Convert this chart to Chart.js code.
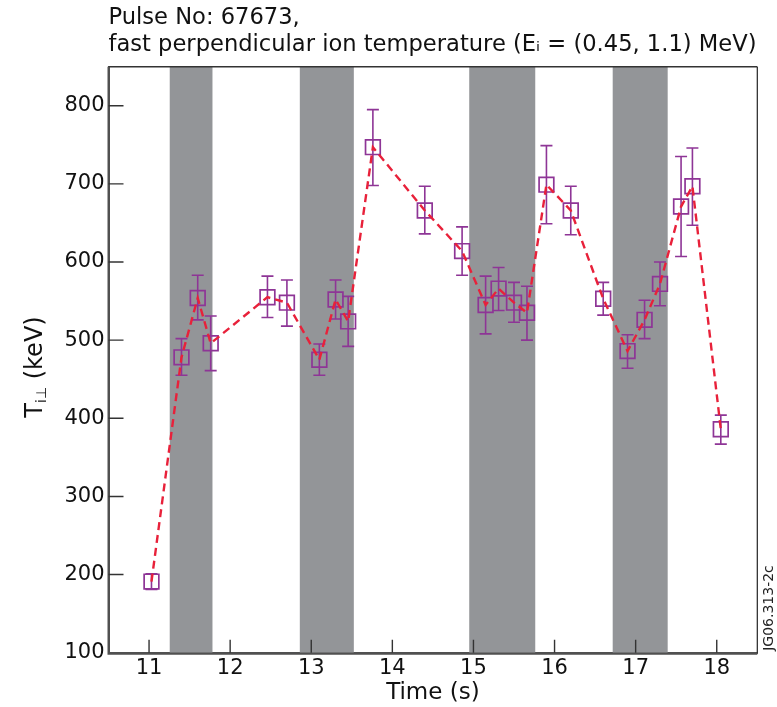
<!DOCTYPE html>
<html>
<head>
<meta charset="utf-8">
<script src="https://cdn.jsdelivr.net/npm/chart.js@4.4.1/dist/chart.umd.min.js"></script>
<style>
  html, body { margin: 0; padding: 0; background: #ffffff; }
  #wrap { width: 777px; height: 707px; position: relative; }
</style>
</head>
<body>
<div id="wrap"><canvas id="c" width="777" height="707"></canvas></div>
<script>
// ---- text ----
const titleLines = ['Pulse No: 67673,', 'fast perpendicular ion temperature (E\u1D62 = (0.45, 1.1) MeV)'];
const xAxisTitle = 'Time (s)';
const yAxisTitleMain = 'T';
const yAxisTitleSub = 'i\u22A5';
const yAxisTitleRest = ' (keV)';
const figureId = 'JG06.313-2c';

// ---- data ----
const times = [11.03, 11.40, 11.60, 11.76, 12.46, 12.70, 13.10, 13.30, 13.455, 13.76,
               14.40, 14.86, 15.15, 15.31, 15.50, 15.66, 15.90, 16.20, 16.60, 16.90,
               17.11, 17.30, 17.56, 17.70, 18.05];
const temps = [191, 478, 554, 496, 555, 548, 475, 552, 524, 747,
               666, 614, 545, 566, 548, 535, 699, 666, 553, 486,
               526, 572, 671, 697, 386];
const errLow = [181, 455, 526, 461, 529, 518, 455, 527, 492, 698,
                636, 583, 508, 538, 523, 500, 649, 635, 532, 464,
                502, 544, 607, 647, 367];
const errHigh = [201, 502, 583, 531, 582, 577, 495, 577, 556, 795,
                 697, 645, 582, 593, 574, 569, 749, 697, 574, 507,
                 551, 600, 735, 746, 404];
// shaded time windows
const bandStart = [11.255, 12.859, 14.948, 16.717];
const bandEnd   = [11.782, 13.525, 15.762, 17.395];
// ticks
const xTicks = [11, 12, 13, 14, 15, 16, 17, 18];
const yTicks = [100, 200, 300, 400, 500, 600, 700, 800];

// ---- styles ----
const FONT = 'DejaVu Sans';
const TEXT = '#111111';
const PURPLE = '#8e3596';
const RED = '#e8213a';
const BAND = '#939598';
const AXIS = '#505050';

const points = times.map((t, i) => ({ x: t, y: temps[i] }));

const decorPlugin = {
  id: 'decor',
  beforeDatasetsDraw(chart) {
    const { ctx, chartArea: a, scales: { x, y } } = chart;
    ctx.save();
    // shaded bands
    ctx.fillStyle = BAND;
    for (let i = 0; i < bandStart.length; i++) {
      const x0 = x.getPixelForValue(bandStart[i]);
      const x1 = x.getPixelForValue(bandEnd[i]);
      ctx.fillRect(x0, a.top, x1 - x0, a.bottom - a.top);
    }
    // error bars
    ctx.strokeStyle = PURPLE;
    ctx.lineWidth = 1.6;
    for (let i = 0; i < times.length; i++) {
      const px = x.getPixelForValue(times[i]);
      const lo = y.getPixelForValue(errLow[i]);
      const hi = y.getPixelForValue(errHigh[i]);
      ctx.beginPath();
      ctx.moveTo(px, lo); ctx.lineTo(px, hi);
      ctx.moveTo(px - 6, lo); ctx.lineTo(px + 6, lo);
      ctx.moveTo(px - 6, hi); ctx.lineTo(px + 6, hi);
      ctx.stroke();
    }
    ctx.restore();
  },
  afterDatasetsDraw(chart) {
    const { ctx, chartArea: a, scales: { x, y } } = chart;
    ctx.save();
    // frame
    ctx.strokeStyle = '#333333';
    ctx.lineWidth = 1.5;
    ctx.beginPath();
    ctx.moveTo(a.left, a.top); ctx.lineTo(a.right, a.top);
    ctx.stroke();
    ctx.strokeStyle = '#222222';
    ctx.lineWidth = 1.2;
    ctx.beginPath();
    ctx.moveTo(a.right, a.top); ctx.lineTo(a.right, a.bottom);
    ctx.stroke();
    ctx.strokeStyle = AXIS;
    ctx.lineWidth = 2;
    ctx.beginPath();
    ctx.moveTo(a.left, a.top); ctx.lineTo(a.left, a.bottom + 1); ctx.lineTo(a.right, a.bottom + 1);
    ctx.stroke();
    // inward ticks
    ctx.strokeStyle = '#333333';
    ctx.lineWidth = 1.4;
    ctx.beginPath();
    yTicks.forEach(v => {
      if (v === y.min) return;
      const py = y.getPixelForValue(v);
      ctx.moveTo(a.left, py); ctx.lineTo(a.left + 15, py);
    });
    xTicks.forEach(v => {
      const px = x.getPixelForValue(v);
      ctx.moveTo(px, a.bottom); ctx.lineTo(px, a.bottom - 13);
    });
    ctx.stroke();
    ctx.restore();
  },
  afterDraw(chart) {
    const { ctx } = chart;
    ctx.save();
    // y axis title with subscript
    ctx.fillStyle = TEXT;
    ctx.textBaseline = 'alphabetic';
    ctx.textAlign = 'left';
    const big = '24px "' + FONT + '"';
    const small = '14px "' + FONT + '"';
    ctx.font = big; const w1 = ctx.measureText(yAxisTitleMain).width;
    const w3 = ctx.measureText(yAxisTitleRest).width;
    ctx.font = small; const w2 = ctx.measureText(yAxisTitleSub).width;
    const W = w1 + w2 + w3;
    ctx.translate(42, 367);
    ctx.rotate(-Math.PI / 2);
    const x0 = -W / 2;
    ctx.font = big; ctx.fillText(yAxisTitleMain, x0, 0);
    ctx.font = small; ctx.fillText(yAxisTitleSub, x0 + w1, 4);
    ctx.font = big; ctx.fillText(yAxisTitleRest, x0 + w1 + w2, 0);
    ctx.restore();
    // figure id on the right
    ctx.save();
    ctx.fillStyle = '#222222';
    ctx.font = '14px "' + FONT + '"';
    ctx.textAlign = 'center';
    ctx.textBaseline = 'alphabetic';
    ctx.translate(773, 608);
    ctx.rotate(-Math.PI / 2);
    ctx.fillText(figureId, 0, 0);
    ctx.restore();
  }
};

new Chart(document.getElementById('c'), {
  type: 'line',
  data: {
    datasets: [
      {
        label: 'trend',
        data: points,
        borderColor: RED,
        borderWidth: 2.4,
        borderDash: [8, 5],
        pointRadius: 0,
        fill: false,
        tension: 0,
        order: 1
      },
      {
        label: 'T_i_perp',
        data: points,
        showLine: false,
        pointStyle: 'rect',
        pointRadius: 10.4,
        pointBorderColor: PURPLE,
        pointBackgroundColor: 'rgba(0,0,0,0)',
        pointBorderWidth: 1.7,
        order: 2
      }
    ]
  },
  options: {
    responsive: false,
    animation: false,
    devicePixelRatio: 1,
    layout: { padding: { left: 0, right: 19.7, top: 0, bottom: 0 } },
    plugins: {
      legend: { display: false },
      tooltip: { enabled: false },
      title: {
        display: true,
        text: titleLines,
        align: 'start',
        fullSize: false,
        color: TEXT,
        font: { family: FONT, size: 22.6, weight: 'normal', lineHeight: 1.17 },
        padding: { top: 5, bottom: 8.8 }
      }
    },
    scales: {
      x: {
        type: 'linear',
        min: 10.5,
        max: 18.5,
        afterBuildTicks: s => { s.ticks = xTicks.map(v => ({ value: v })); },
        afterFit: s => { s.height = 54.3; },
        grid: { display: false, drawTicks: false },
        border: { display: true, color: AXIS, width: 2 },
        ticks: { padding: 3, color: TEXT, autoSkip: false, maxRotation: 0,
                 font: { family: FONT, size: 21 } },
        title: { display: true, text: xAxisTitle, color: TEXT, padding: 0,
                 font: { family: FONT, size: 23 } }
      },
      y: {
        type: 'linear',
        min: 100,
        max: 850,
        afterBuildTicks: s => { s.ticks = yTicks.map(v => ({ value: v })); },
        afterFit: s => { s.width = 108.5; },
        grid: { display: false, drawTicks: false },
        border: { display: true, color: AXIS, width: 2 },
        ticks: { padding: 4, color: TEXT, font: { family: FONT, size: 21 } }
      }
    }
  },
  plugins: [decorPlugin]
});
</script>
</body>
</html>
